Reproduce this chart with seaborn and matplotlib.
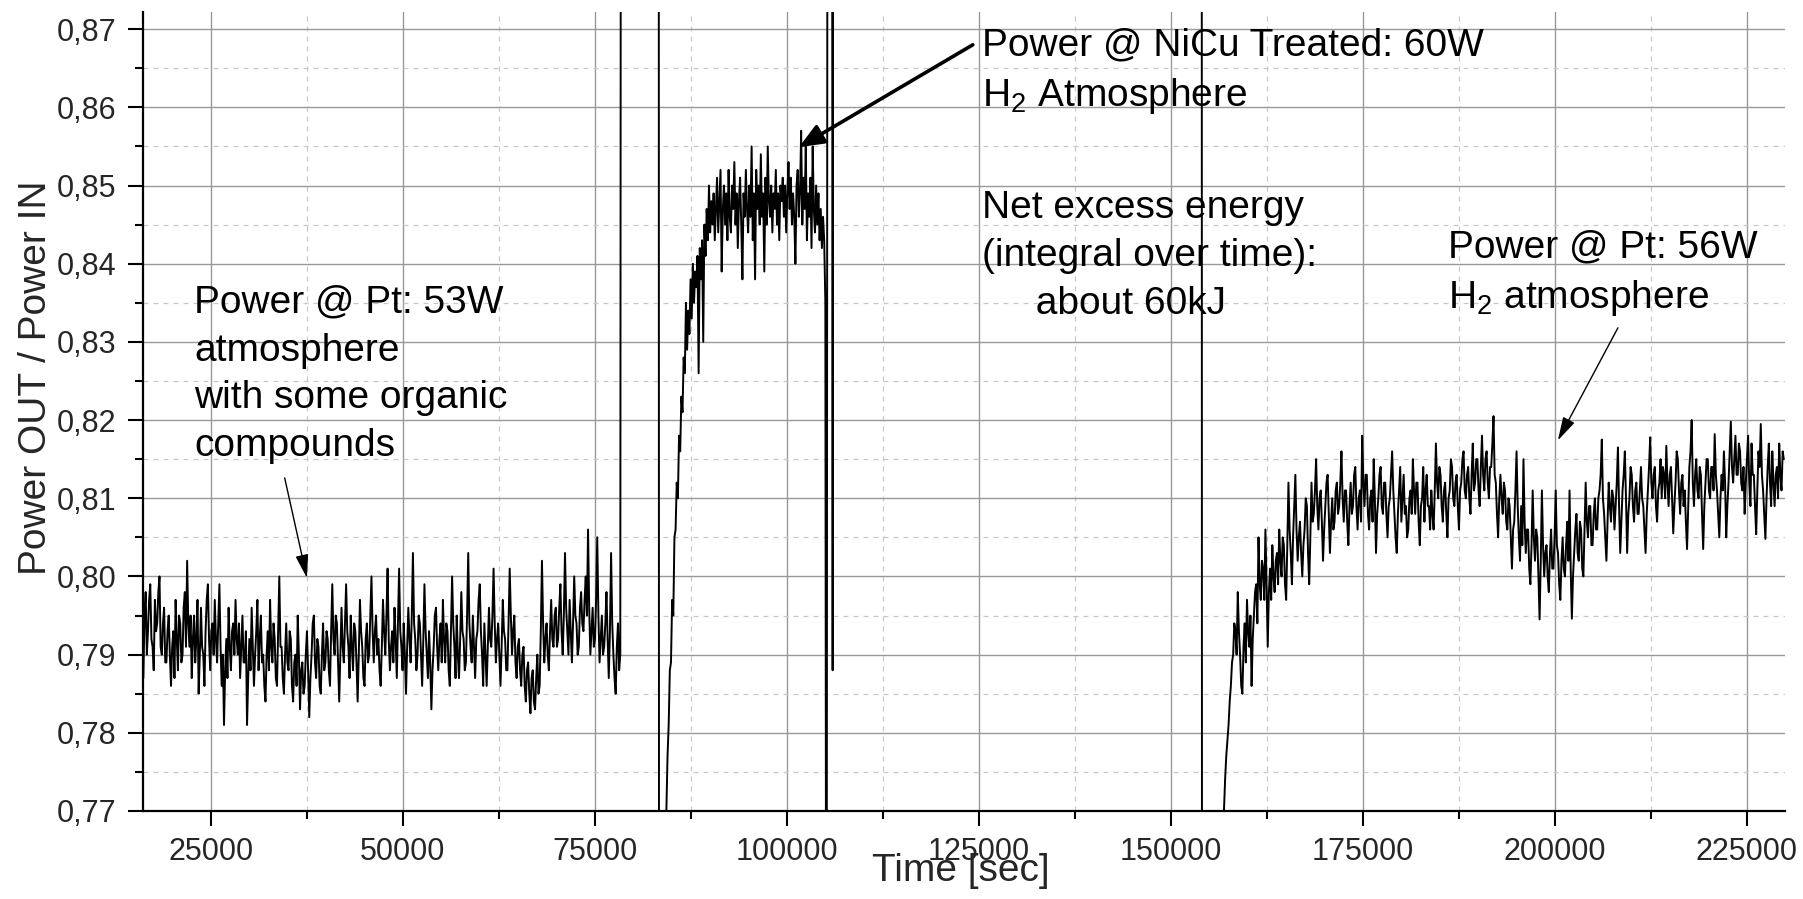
import numpy as np
import pandas as pd
import matplotlib
matplotlib.use("Agg")
import matplotlib.pyplot as plt
from matplotlib.ticker import MultipleLocator, FuncFormatter
import seaborn as sns

# --- data (Power OUT / Power IN) ---
# Pt, 53 W, atmosphere with some organic compounds (one reading every 150 s)
seg1_start, seg1_step = 16200, 150
seg1_values = [
    0.787, 0.795, 0.798, 0.790, 0.793, 0.797, 0.799, 0.792, 0.791, 0.788, 0.797, 0.793, 0.794, 0.798, 0.800, 0.791, 0.790, 0.794, 0.796, 0.789,
    0.789, 0.793, 0.795, 0.790, 0.786, 0.791, 0.793, 0.787, 0.797, 0.792, 0.788, 0.795, 0.794, 0.789, 0.790, 0.796, 0.798, 0.791, 0.802, 0.794,
    0.791, 0.795, 0.787, 0.792, 0.795, 0.789, 0.792, 0.797, 0.785, 0.790, 0.796, 0.791, 0.790, 0.786, 0.793, 0.797, 0.799, 0.792, 0.788, 0.793,
    0.794, 0.790, 0.797, 0.792, 0.789, 0.794, 0.799, 0.791, 0.786, 0.790, 0.781, 0.788, 0.792, 0.787, 0.796, 0.791, 0.788, 0.793, 0.794, 0.790,
    0.797, 0.792, 0.790, 0.794, 0.787, 0.791, 0.795, 0.789, 0.789, 0.793, 0.781, 0.787, 0.792, 0.788, 0.796, 0.791, 0.786, 0.790, 0.793, 0.797,
    0.788, 0.792, 0.795, 0.789, 0.790, 0.786, 0.784, 0.790, 0.793, 0.788, 0.797, 0.791, 0.789, 0.794, 0.792, 0.787, 0.786, 0.793, 0.800, 0.791,
    0.791, 0.787, 0.785, 0.790, 0.794, 0.789, 0.788, 0.793, 0.792, 0.786, 0.784, 0.789, 0.790, 0.786, 0.795, 0.790, 0.783, 0.788, 0.789, 0.785,
    0.786, 0.790, 0.793, 0.788, 0.782, 0.787, 0.790, 0.794, 0.795, 0.789, 0.787, 0.792, 0.791, 0.786, 0.785, 0.790, 0.794, 0.788, 0.789, 0.793,
    0.792, 0.788, 0.786, 0.793, 0.799, 0.792, 0.790, 0.795, 0.794, 0.789, 0.784, 0.790, 0.796, 0.791, 0.789, 0.794, 0.799, 0.793, 0.791, 0.787,
    0.795, 0.791, 0.788, 0.794, 0.793, 0.789, 0.784, 0.790, 0.797, 0.793, 0.791, 0.787, 0.786, 0.792, 0.794, 0.789, 0.790, 0.795, 0.800, 0.793,
    0.789, 0.793, 0.795, 0.790, 0.792, 0.788, 0.786, 0.791, 0.797, 0.793, 0.790, 0.795, 0.801, 0.792, 0.788, 0.791, 0.793, 0.789, 0.796, 0.792,
    0.787, 0.794, 0.801, 0.793, 0.791, 0.788, 0.794, 0.790, 0.785, 0.791, 0.796, 0.792, 0.789, 0.795, 0.803, 0.794, 0.792, 0.788, 0.790, 0.795,
    0.794, 0.790, 0.786, 0.792, 0.799, 0.793, 0.790, 0.787, 0.793, 0.789, 0.783, 0.788, 0.791, 0.795, 0.796, 0.791, 0.788, 0.792, 0.794, 0.789,
    0.797, 0.792, 0.789, 0.794, 0.793, 0.788, 0.786, 0.793, 0.800, 0.794, 0.791, 0.787, 0.795, 0.790, 0.787, 0.792, 0.798, 0.793, 0.792, 0.788,
    0.789, 0.795, 0.803, 0.794, 0.791, 0.789, 0.795, 0.791, 0.787, 0.792, 0.793, 0.797, 0.799, 0.793, 0.790, 0.786, 0.794, 0.790, 0.786, 0.791,
    0.796, 0.792, 0.791, 0.795, 0.801, 0.794, 0.789, 0.792, 0.794, 0.790, 0.786, 0.791, 0.797, 0.793, 0.792, 0.788, 0.788, 0.794, 0.801, 0.795,
    0.790, 0.793, 0.795, 0.789, 0.787, 0.791, 0.792, 0.788, 0.786, 0.790, 0.791, 0.786, 0.784, 0.788, 0.789, 0.785, 0.7825, 0.787, 0.788, 0.784,
    0.783, 0.787, 0.790, 0.785, 0.786, 0.793, 0.802, 0.794, 0.789, 0.792, 0.794, 0.790, 0.788, 0.793, 0.797, 0.792, 0.791, 0.795, 0.796, 0.791,
    0.792, 0.796, 0.799, 0.793, 0.790, 0.795, 0.803, 0.796, 0.793, 0.790, 0.797, 0.793, 0.789, 0.794, 0.800, 0.795, 0.794, 0.790, 0.791, 0.796,
    0.798, 0.794, 0.793, 0.797, 0.800, 0.795, 0.806, 0.796, 0.790, 0.793, 0.796, 0.791, 0.792, 0.797, 0.805, 0.795, 0.789, 0.792, 0.795, 0.790,
    0.791, 0.794, 0.798, 0.792, 0.787, 0.793, 0.803, 0.794, 0.790, 0.787, 0.785, 0.791, 0.794, 0.788, 0.790,
]

# NiCu treated, 60 W, H2 atmosphere (one reading every 150 s)
seg2_start, seg2_step = 84300, 150
seg2_values = [
    0.770, 0.777, 0.781, 0.788, 0.789, 0.797, 0.795, 0.805, 0.806, 0.812,
    0.810, 0.818, 0.816, 0.823, 0.821, 0.828, 0.826, 0.835, 0.829, 0.834,
    0.831, 0.838, 0.833, 0.840, 0.835, 0.839, 0.837, 0.841, 0.826, 0.842,
    0.838, 0.843, 0.830, 0.845, 0.841, 0.847, 0.843, 0.850, 0.844, 0.848,
    0.845, 0.849, 0.843, 0.847, 0.851, 0.844, 0.848, 0.852, 0.839, 0.847,
    0.850, 0.845, 0.849, 0.843, 0.852, 0.846, 0.844, 0.850, 0.847, 0.853,
    0.845, 0.849, 0.842, 0.848, 0.851, 0.845, 0.838, 0.849, 0.846, 0.852,
    0.847, 0.844, 0.850, 0.846, 0.855, 0.843, 0.849, 0.838, 0.852, 0.847,
    0.850, 0.845, 0.854, 0.846, 0.849, 0.839, 0.851, 0.845, 0.855, 0.848,
    0.846, 0.850, 0.844, 0.849, 0.847, 0.852, 0.845, 0.849, 0.843, 0.850,
    0.848, 0.851, 0.846, 0.850, 0.844, 0.849, 0.853, 0.847, 0.851, 0.845,
    0.849, 0.846, 0.840, 0.850, 0.852, 0.846, 0.849, 0.857, 0.845, 0.851,
    0.847, 0.855, 0.843, 0.849, 0.846, 0.851, 0.842, 0.855, 0.847, 0.844,
    0.850, 0.845, 0.849, 0.843, 0.847, 0.842, 0.846, 0.843, 0.835,
]

# Pt, 56 W, H2 atmosphere (one reading every 150 s)
seg3_start, seg3_step = 156900, 150
seg3_values = [
    0.770, 0.774, 0.777, 0.779, 0.781, 0.784, 0.786, 0.789, 0.790, 0.794, 0.793, 0.790, 0.798, 0.793, 0.790, 0.786, 0.785, 0.791, 0.794, 0.789,
    0.797, 0.793, 0.791, 0.795, 0.786, 0.792, 0.795, 0.798, 0.799, 0.794, 0.805, 0.799, 0.797, 0.802, 0.801, 0.797, 0.806, 0.799, 0.791, 0.798,
    0.801, 0.797, 0.804, 0.800, 0.798, 0.802, 0.803, 0.799, 0.806, 0.802, 0.800, 0.805, 0.804, 0.799, 0.797, 0.804, 0.812, 0.806, 0.803, 0.799,
    0.805, 0.809, 0.813, 0.806, 0.802, 0.805, 0.807, 0.803, 0.800, 0.804, 0.806, 0.810, 0.809, 0.803, 0.799, 0.805, 0.812, 0.807, 0.808, 0.811,
    0.815, 0.809, 0.806, 0.810, 0.811, 0.807, 0.802, 0.806, 0.809, 0.812, 0.813, 0.808, 0.803, 0.807, 0.810, 0.806, 0.807, 0.811, 0.812, 0.808,
    0.809, 0.812, 0.816, 0.810, 0.807, 0.811, 0.811, 0.807, 0.804, 0.809, 0.812, 0.808, 0.809, 0.813, 0.814, 0.809, 0.806, 0.810, 0.811, 0.807,
    0.818, 0.812, 0.809, 0.813, 0.813, 0.808, 0.806, 0.810, 0.811, 0.807, 0.815, 0.810, 0.803, 0.808, 0.810, 0.813, 0.814, 0.809, 0.808, 0.812,
    0.812, 0.808, 0.805, 0.809, 0.810, 0.813, 0.816, 0.811, 0.808, 0.805, 0.803, 0.808, 0.811, 0.814, 0.807, 0.810, 0.813, 0.808, 0.809, 0.805,
    0.806, 0.810, 0.811, 0.808, 0.815, 0.811, 0.808, 0.812, 0.812, 0.807, 0.804, 0.809, 0.810, 0.814, 0.807, 0.811, 0.813, 0.809, 0.809, 0.806,
    0.811, 0.808, 0.806, 0.811, 0.817, 0.812, 0.810, 0.814, 0.813, 0.809, 0.807, 0.811, 0.812, 0.808, 0.805, 0.810, 0.811, 0.815, 0.814, 0.810,
    0.809, 0.812, 0.813, 0.809, 0.806, 0.811, 0.812, 0.815, 0.816, 0.811, 0.810, 0.813, 0.814, 0.810, 0.808, 0.813, 0.817, 0.811, 0.812, 0.815,
    0.815, 0.811, 0.809, 0.814, 0.818, 0.813, 0.811, 0.815, 0.816, 0.812, 0.810, 0.814, 0.814, 0.817, 0.8205, 0.813, 0.812, 0.808, 0.805, 0.810,
    0.813, 0.810, 0.808, 0.812, 0.811, 0.807, 0.806, 0.810, 0.809, 0.805, 0.801, 0.806, 0.807, 0.811, 0.816, 0.809, 0.805, 0.802, 0.809, 0.804,
    0.815, 0.807, 0.803, 0.806, 0.806, 0.801, 0.799, 0.804, 0.811, 0.805, 0.802, 0.806, 0.805, 0.800, 0.7945, 0.802, 0.811, 0.804, 0.800, 0.803,
    0.804, 0.800, 0.798, 0.803, 0.806, 0.801, 0.801, 0.805, 0.811, 0.804, 0.803, 0.799, 0.797, 0.802, 0.805, 0.801, 0.800, 0.804, 0.807, 0.802,
    0.811, 0.801, 0.7946, 0.800, 0.803, 0.806, 0.808, 0.803, 0.802, 0.807, 0.806, 0.801, 0.800, 0.806, 0.812, 0.807, 0.805, 0.809, 0.809, 0.804,
    0.804, 0.808, 0.810, 0.806, 0.806, 0.810, 0.811, 0.813, 0.8175, 0.810, 0.808, 0.805, 0.802, 0.807, 0.812, 0.809, 0.807, 0.811, 0.810, 0.806,
    0.809, 0.812, 0.8165, 0.809, 0.803, 0.807, 0.811, 0.813, 0.816, 0.810, 0.803, 0.808, 0.810, 0.814, 0.813, 0.809, 0.807, 0.811, 0.812, 0.808,
    0.808, 0.811, 0.814, 0.810, 0.809, 0.806, 0.803, 0.808, 0.811, 0.814, 0.8178, 0.812, 0.810, 0.813, 0.814, 0.809, 0.807, 0.811, 0.812, 0.815,
    0.810, 0.814, 0.813, 0.810, 0.8167, 0.812, 0.809, 0.813, 0.814, 0.810, 0.8055, 0.809, 0.812, 0.816, 0.815, 0.811, 0.808, 0.812, 0.813, 0.809,
    0.811, 0.807, 0.8035, 0.809, 0.814, 0.816, 0.820, 0.812, 0.809, 0.813, 0.815, 0.811, 0.810, 0.814, 0.813, 0.808, 0.8035, 0.809, 0.812, 0.815,
    0.815, 0.811, 0.810, 0.814, 0.814, 0.811, 0.8182, 0.813, 0.811, 0.808, 0.805, 0.810, 0.813, 0.811, 0.816, 0.812, 0.805, 0.809, 0.812, 0.816,
    0.8198, 0.814, 0.812, 0.815, 0.818, 0.813, 0.813, 0.817, 0.816, 0.812, 0.811, 0.814, 0.808, 0.812, 0.815, 0.818, 0.812, 0.809, 0.817, 0.813,
    0.813, 0.809, 0.8054, 0.811, 0.816, 0.814, 0.8195, 0.813, 0.811, 0.808, 0.8048, 0.810, 0.814, 0.817, 0.812, 0.809, 0.816, 0.812, 0.809, 0.813,
    0.814, 0.810, 0.817, 0.813, 0.811, 0.816, 0.815,
]

# off-scale readings while the heater was switched between runs
gap1_times = [78400, 83300, 83350, 84200]
gap1_values = [0.95, 0.95, 0.70, 0.70]
gap2_times = [105150, 105300, 105850, 105950, 106050, 154000, 154050, 156800]
gap2_values = [0.70, 0.95, 0.95, 0.788, 0.95, 0.95, 0.70, 0.70]


def segment(start, step, values):
    t = start + step * np.arange(len(values))
    return pd.DataFrame({"time": t, "ratio": values})


df = pd.concat([
    segment(seg1_start, seg1_step, seg1_values),
    pd.DataFrame({"time": gap1_times, "ratio": gap1_values}),
    segment(seg2_start, seg2_step, seg2_values),
    pd.DataFrame({"time": gap2_times, "ratio": gap2_values}),
    segment(seg3_start, seg3_step, seg3_values),
], ignore_index=True)

sns.set_theme(style="white")
plt.rcParams["font.family"] = ["Liberation Sans", "DejaVu Sans"]

fig = plt.figure(figsize=(18.03, 8.99), dpi=100)
ax = fig.add_axes([0.0793, 0.0979, 0.9107, 0.8888])

sns.lineplot(data=df, x="time", y="ratio", estimator=None, sort=False,
             color="black", lw=1.4, ax=ax)

ax.set_xlim(16150, 229950)
ax.set_ylim(0.77, 0.8722)

ax.xaxis.set_major_locator(MultipleLocator(25000))
ax.xaxis.set_minor_locator(MultipleLocator(12500))
ax.yaxis.set_major_locator(MultipleLocator(0.01))
ax.yaxis.set_minor_locator(MultipleLocator(0.005))
ax.yaxis.set_major_formatter(FuncFormatter(lambda v, p: f"{v:.2f}".replace(".", ",")))
ax.xaxis.set_major_formatter(FuncFormatter(lambda v, p: f"{int(round(v))}"))

ax.set_axisbelow(True)
ax.grid(which="major", color="#999999", lw=1.0, ls="-")
ax.grid(which="minor", color="#c8c8c8", lw=0.9, ls=(0, (4, 4)))

for side in ["top", "right"]:
    ax.spines[side].set_visible(False)
for side in ["left", "bottom"]:
    ax.spines[side].set_color("black")
    ax.spines[side].set_linewidth(1.6)

ax.tick_params(which="major", direction="out", length=11, width=1.5,
               color="black", labelsize=22, pad=8, left=True, bottom=True)
ax.tick_params(which="minor", direction="out", length=6, width=1.5,
               color="black", left=True, bottom=True)

ax.set_xlabel("Time [sec]", fontsize=28)
ax.set_ylabel("Power OUT / Power IN", fontsize=28)
ax.xaxis.set_label_coords(0.498, -0.052)
ax.yaxis.set_label_coords(-0.054, 0.542)

# va="baseline" anchors the last line of each block
txt = dict(fontsize=28, va="baseline", ha="left", linespacing=1.42, color="black")
ax.text(22800, 0.8154,
        "Power @ Pt: 53W\natmosphere\nwith some organic\ncompounds", **txt)
ax.text(125400, 0.8602,
        "Power @ NiCu Treated: 60W\n$\\mathregular{H_2}$ Atmosphere", **txt)
ax.text(125400, 0.8336,
        "Net excess energy\n(integral over time):\n     about 60kJ", **txt)
ax.text(186060, 0.8343,
        "Power @ Pt: 56W\n$\\mathregular{H_2}$ atmosphere", **txt)

thin = dict(arrowstyle="-|>,head_length=0.8,head_width=0.22", lw=1.0,
            color="black", mutation_scale=18, shrinkA=0, shrinkB=0)
thick = dict(arrowstyle="-|>,head_length=0.6,head_width=0.25", lw=2.6,
             color="black", mutation_scale=25, shrinkA=0, shrinkB=0)
ax.annotate("", xy=(37500, 0.7998), xytext=(34600, 0.8126), arrowprops=thin)
ax.annotate("", xy=(101560, 0.8549), xytext=(124200, 0.868), arrowprops=thick)
ax.annotate("", xy=(200380, 0.8174), xytext=(208200, 0.8318), arrowprops=thin)

fig.savefig("out.png", dpi=100)
